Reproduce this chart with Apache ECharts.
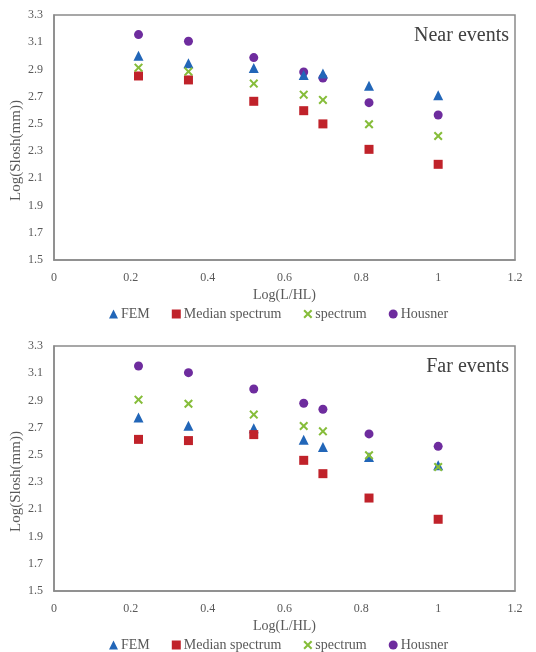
<!DOCTYPE html>
<html>
<head>
<meta charset="utf-8">
<script src="https://cdn.jsdelivr.net/npm/echarts@6/dist/echarts.min.js"></script>
<style>html,body{margin:0;padding:0;background:#fff;}#c{width:536px;height:652px;}</style>
</head>
<body>
<div id="c"></div>
<script>
var xVals = [0.22, 0.35, 0.52, 0.65, 0.70, 0.82, 1.0];
var seriesNames = ['FEM', 'Median spectrum', 'spectrum', 'Housner'];
var nearFEM = [3.00, 2.945, 2.91, 2.86, 2.87, 2.78, 2.71];
var nearMedian = [2.852, 2.823, 2.666, 2.597, 2.50, 2.313, 2.203];
var nearSpectrum = [2.913, 2.884, 2.796, 2.715, 2.676, 2.497, 2.411];
var nearHousner = [3.156, 3.107, 2.987, 2.881, 2.837, 2.656, 2.565];
var farFEM = [2.774, 2.715, 2.695, 2.612, 2.558, 2.485, 2.423];
var farMedian = [2.614, 2.605, 2.649, 2.460, 2.362, 2.183, 2.027];
var farSpectrum = [2.906, 2.876, 2.796, 2.712, 2.673, 2.497, 2.411];
var farHousner = [3.153, 3.104, 2.984, 2.879, 2.835, 2.654, 2.563];
var panelTitles = ['Near events', 'Far events'];
var xAxisName = 'Log(L/HL)';
var yAxisName = 'Log(Slosh(mm))';

var colors = ['#2266b8', '#c0222a', '#86bd3a', '#6e2c9e'];
var crossPath = 'path://M0,1.6L1.6,0L5,3.4L8.4,0L10,1.6L6.6,5L10,8.4L8.4,10L5,6.6L1.6,10L0,8.4L3.4,5Z';
var symbols = ['triangle', 'rect', crossPath, 'circle'];
var sizes = [10, 9, 9, 9];
var font = '"Liberation Serif", "DejaVu Serif", serif';

function pairs(vals) { return xVals.map(function (x, i) { return [x, vals[i]]; }); }
var panels = [[nearFEM, nearMedian, nearSpectrum, nearHousner], [farFEM, farMedian, farSpectrum, farHousner]];
var tops = [15, 346];

var grids = [], xAxes = [], yAxes = [], series = [], titles = [], legends = [];
panels.forEach(function (p, k) {
  grids.push({left: 54, top: tops[k], width: 461, height: 245, show: true, borderColor: '#8a8a8a', borderWidth: 1.5,
    containLabel: false, outerBoundsMode: 'none'});
  xAxes.push({type: 'value', gridIndex: k, min: 0, max: 1.2, interval: 0.2,
    name: xAxisName, nameLocation: 'middle', nameGap: 28, nameMoveOverlap: false,
    nameTextStyle: {fontFamily: font, fontSize: 14, color: '#595959'},
    axisLine: {show: true, lineStyle: {color: '#8a8a8a', width: 1.5}}, axisTick: {show: false}, splitLine: {show: false},
    axisLabel: {fontFamily: font, fontSize: 12, color: '#595959', margin: 12,
      formatter: function (v) { return String(Math.round(v * 10) / 10); }}});
  yAxes.push({type: 'value', gridIndex: k, min: 1.5, max: 3.3, interval: 0.2,
    name: yAxisName, nameLocation: 'middle', nameGap: 30, nameMoveOverlap: false,
    nameTextStyle: {fontFamily: font, fontSize: 15, color: '#595959', padding: [0, 26, 0, 0]},
    axisLine: {show: true, lineStyle: {color: '#8a8a8a', width: 1.5}}, axisTick: {show: false}, splitLine: {show: false},
    axisLabel: {fontFamily: font, fontSize: 12, color: '#595959', margin: 11,
      formatter: function (v) { return v.toFixed(1); }}});
  p.forEach(function (vals, s) {
    series.push({type: 'scatter', name: seriesNames[s], xAxisIndex: k, yAxisIndex: k,
      symbol: symbols[s], symbolSize: sizes[s], itemStyle: {color: colors[s], opacity: 1},
      data: pairs(vals), z: s === 3 ? 2 : 3});
  });
  titles.push({text: panelTitles[k], right: 22, top: tops[k] + 6,
    textStyle: {fontFamily: font, fontSize: 20, fontWeight: 'normal', color: '#404040'}});
  legends.push({top: tops[k] + 287, left: 104, itemWidth: 9, itemHeight: 9, itemGap: 22,
    data: seriesNames.map(function (n, s) { return {name: n, icon: symbols[s]}; }),
    textStyle: {fontFamily: font, fontSize: 14, color: '#595959', padding: [0, 0, 0, -2]}});
});

var chart = echarts.init(document.getElementById('c'), null, {renderer: 'canvas'});
chart.setOption({
  backgroundColor: '#fff',
  animation: false,
  title: titles,
  legend: legends,
  grid: grids,
  xAxis: xAxes,
  yAxis: yAxes,
  series: series
});
</script>
</body>
</html>
